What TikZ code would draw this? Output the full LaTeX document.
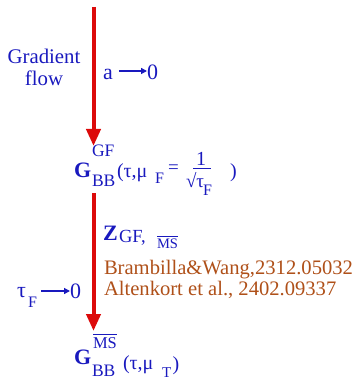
\documentclass[tikz,border=0pt]{standalone}
\usepackage{fontspec}
\setmainfont{LiberationSerif}[Extension=.ttf, UprightFont=*-Regular, BoldFont=*-Bold, ItalicFont=*-Italic, BoldItalicFont=*-BoldItalic]
\usetikzlibrary{arrows.meta}
\definecolor{tblue}{RGB}{25,25,190}
\definecolor{tred}{RGB}{220,10,10}
\definecolor{tbrown}{RGB}{175,80,25}
\tikzset{
  lbl/.style={inner sep=0pt, outer sep=0pt, text=tblue, anchor=base west},
  fs/.style={font=\fontsize{#1}{#1}\selectfont},
  fsb/.style={font=\fontsize{#1}{#1}\selectfont\bfseries},
  bigarrow/.style={draw=tred, line width=4pt, -{Triangle[length=17pt,width=14pt]}},
  smallarrow/.style={draw=tblue, line width=1.3pt, -{Triangle[length=6pt,width=6pt]}},
  refline/.style={inner sep=0pt, outer sep=0pt, text=tbrown, anchor=base west, font=\fontsize{20.6}{20.6}\selectfont},
  barline/.style={draw=tblue, line width=0.8pt}
}
\begin{document}
\begin{tikzpicture}[x=1pt,y=-1pt]
\useasboundingbox (0,0) rectangle (357,379);

% arrows
\coordinate (top) at (93.5,7);
\coordinate (tip1) at (93.5,146);
\coordinate (start2) at (93.5,193);
\coordinate (tip2) at (93.5,331);
\draw[bigarrow] (top) -- (tip1);
\draw[bigarrow] (start2) -- (tip2);

% Gradient flow
\node[lbl, anchor=base, fs=20.8] (grad) at (44,64) {Gradient};
\node[lbl, anchor=base, fs=20.8] (flow) at (44,86) {flow};

% a -> 0
\node[lbl, fs=22] (a) at (103,80) {a};
\node[lbl, fs=22] (zero1) at (147,80) {0};
\draw[smallarrow] (a.east |- 0,71) ++(6,0) coordinate (a1) -- (zero1.west |- 0,71);

% G^GF_BB(tau, mu_F = 1/sqrt(tau_F))
\node[lbl, fsb=22] (G1) at (74,177) {G};
\node[lbl, fs=17.5] (GF) at (92,157) {GF};
\node[lbl, fs=17.5] (BB1) at (92,186) {BB};
\node[lbl, fs=20] (arg1) at (117,177) {(τ,μ};
\node[lbl, fs=16] (F1) at (155,183) {F};
\node[lbl, fs=19] (eq) at (168,174) {=};
\node[lbl, fs=20] (one) at (196,166) {1};
\draw[barline, line width=0.6pt] (193,168.5) -- (211,168.5);
\node[lbl, fs=19] (sqtau) at (186,187) {√τ};
\node[lbl, fs=16] (F2) at (203,195) {F};
\node[lbl, fs=20] (cl1) at (230,178) {)};

% Z_GF, MSbar
\node[lbl, fsb=22] (Z) at (103,240) {Z};
\node[lbl, fs=18.5] (GFc) at (119,242) {GF,};
\node[lbl, fs=14.5] (ms1) at (157,248) {MS};
\draw[barline] ([yshift=2.5pt]ms1.north west) -- ([yshift=2.5pt]ms1.north east);

% references
\node[refline] (ref1) at (104,274) {Brambilla\&Wang,2312.05032};
\node[refline] (ref2) at (104,295) {Altenkort et al., 2402.09337};

% tau_F -> 0
\node[lbl, fs=22] (tau2) at (17,297) {τ};
\node[lbl, fs=16] (F3) at (28,307) {F};
\node[lbl, fs=22] (zero2) at (70,298) {0};
\draw[smallarrow] (41,291) coordinate (t1) -- (zero2.west |- 0,291);

% G^MSbar_BB(tau, mu_T)
\node[lbl, fsb=22] (G2) at (74,364) {G};
\node[lbl, fs=16.5] (ms2) at (93,348) {MS};
\draw[barline] ([yshift=2.5pt]ms2.north west) -- ([yshift=2.5pt]ms2.north east);
\node[lbl, fs=17.5] (BB2) at (92,376) {BB};
\node[lbl, fs=20] (arg2) at (123,369) {(τ,μ};
\node[lbl, fs=15] (T) at (162,377) {T};
\node[lbl, fs=20] (cl2) at (172.5,370) {)};
\end{tikzpicture}
\end{document}
